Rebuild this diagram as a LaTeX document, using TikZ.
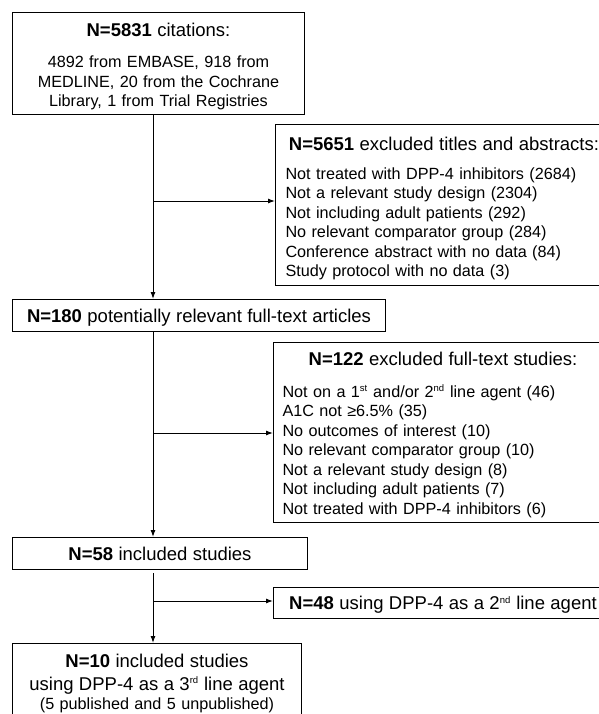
\documentclass[tikz,border=0pt]{standalone}
\usepackage{fontspec}
\setmainfont{Liberation Sans}
\usetikzlibrary{arrows.meta}
\newcommand{\headfont}{\fontsize{18.5pt}{22.4pt}\selectfont}
\newcommand{\bodyfont}{\fontsize{16.2pt}{19.5pt}\selectfont}
\newcommand{\ordsup}[1]{\textsuperscript{\fontsize{9.5pt}{9.5pt}\selectfont #1}}
\tikzstyle{box} = [draw, line width=1pt, anchor=north west, inner ysep=0pt, inner xsep=6pt, align=center, font=\bodyfont]
\tikzstyle{sidebox} = [box, inner xsep=10pt, align=left]
\tikzstyle{flow} = [line width=1pt, -{Latex[length=7pt,width=5pt]}]

\begin{document}
\begin{tikzpicture}
\useasboundingbox (0,0) rectangle (599pt,-714pt);
\clip (0,0) rectangle (599pt,-714pt);
\coordinate (spine) at (153pt,0pt);
%begin main column
\node[box, text width=280pt, text height=23.7pt, text depth=78.3pt] (cit) at (12pt,-12pt)
    {{\headfont\textbf{N=5831} citations:\par}\vspace{12pt}
     4892 from EMBASE, 918 from\\ MEDLINE, 20 from the Cochrane\\ Library, 1 from Trial Registries};
\node[box, text width=361pt, text height=22.7pt, text depth=9.3pt] (full) at (12pt,-299pt)
    {\headfont\textbf{N=180} potentially relevant full-text articles};
\node[box, text width=283pt, text height=22.7pt, text depth=9.3pt] (incl) at (12pt,-537pt)
    {\headfont\textbf{N=58} included studies};
\node[box, text width=277pt, text height=23.7pt, text depth=100pt] (fin) at (12pt,-643pt)
    {{\headfont\baselineskip=23pt\textbf{N=10} included studies\\
     using DPP-4 as a 3\ordsup{rd} line agent\par}
     (5 published and 5 unpublished)};
%end main column
%begin side boxes
\node[sidebox, text width=317pt, text height=25.7pt, text depth=135.3pt] (excl1) at (275pt,-124pt)
    {{\headfont\centering\textbf{N=5651} excluded titles and abstracts:\par}\vspace{9.6pt}
     Not treated with DPP-4 inhibitors (2684)\\
     Not a relevant study design (2304)\\
     Not including adult patients (292)\\
     No relevant comparator group (284)\\
     Conference abstract with no data (84)\\
     Study protocol with no data (3)};
\node[sidebox, inner xsep=9pt, text width=321pt, text height=22.7pt, text depth=157.3pt] (excl2) at (273pt,-342pt)
    {{\headfont\centering\textbf{N=122} excluded full-text studies:\par}\vspace{12.6pt}
     Not on a 1\ordsup{st} and/or 2\ordsup{nd} line agent (46)\\
     A1C not ≥6.5\% (35)\\
     No outcomes of interest (10)\\
     No relevant comparator group (10)\\
     Not a relevant study design (8)\\
     Not including adult patients (7)\\
     Not treated with DPP-4 inhibitors (6)};
\node[box, inner xsep=9pt, text width=321pt, text height=22.2pt, text depth=8.8pt] (dpp2) at (273pt,-587pt)
    {\headfont\textbf{N=48} using DPP-4 as a 2\ordsup{nd} line agent};
%end side boxes
%begin connectors
\coordinate (br1) at (153pt,-201pt);
\coordinate (br2) at (153pt,-433pt);
\coordinate (br3) at (153pt,-601pt);
\draw[flow] (cit.south -| spine) -- (full.north -| spine);
\draw[flow] (br1) -- (br1 -| excl1.west);
\draw[flow] (full.south -| spine) -- (incl.north -| spine);
\draw[flow] (br2) -- (br2 -| excl2.west);
\draw[flow, shorten <=3pt] (incl.south -| spine) -- (fin.north -| spine);
\draw[flow] (br3) -- (br3 -| dpp2.west);
%end connectors
\end{tikzpicture}
\end{document}
